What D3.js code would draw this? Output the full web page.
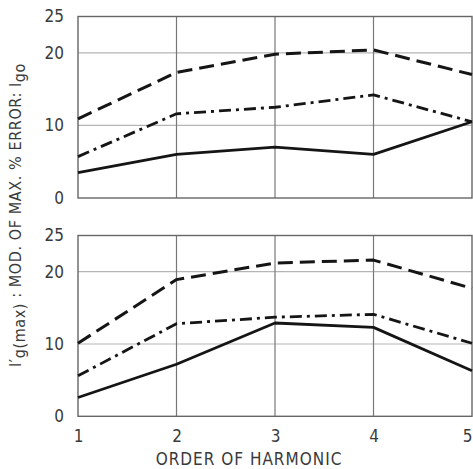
<!DOCTYPE html>
<html>
<head>
<meta charset="utf-8">
<script src="https://cdn.jsdelivr.net/npm/d3@7"></script>
<style>
  body { margin: 0; background: #fff; }
  svg text { font-family: "DejaVu Sans Condensed", "DejaVu Sans", sans-serif; fill: #3a3a3a; }
</style>
</head>
<body>
<div id="chart"></div>
<script>
var harmonics = [1, 2, 3, 4, 5];
var yTicks = [0, 10, 20, 25];

// upper panel: % error of I_go
var topDashed  = [10.9, 17.3, 19.8, 20.4, 17.0];
var topDashDot = [5.7, 11.6, 12.5, 14.2, 10.5];
var topSolid   = [3.5, 6.0, 7.0, 6.0, 10.5];

// lower panel: I'g(max)
var botDashed  = [10.1, 18.9, 21.2, 21.6, 17.7];
var botDashDot = [5.6, 12.8, 13.7, 14.1, 10.1];
var botSolid   = [2.6, 7.2, 12.9, 12.3, 6.3];

var W = 473, H = 469;
var left = 78, right = 472;

var svg = d3.select("#chart").append("svg")
	.attr("width", W).attr("height", H);

var x = d3.scaleLinear().domain([1, 5]).range([left, right]);

var styles = [
	{dash: "15,7", width: 3},
	{dash: "12,5,3,5", width: 2.8},
	{dash: null, width: 2.8}
];

function panel(top, bottom, series) {
	var y = d3.scaleLinear().domain([0, 25]).range([bottom, top]);
	var g = svg.append("g");

	// horizontal grid
	g.selectAll(".hg").data([10, 20]).enter().append("line")
		.attr("x1", left).attr("x2", right)
		.attr("y1", function(d) { return y(d); }).attr("y2", function(d) { return y(d); })
		.attr("stroke", "#b5b5b5").attr("stroke-width", 1.2);

	// vertical grid
	g.selectAll(".vg").data([2, 3, 4]).enter().append("line")
		.attr("x1", function(d) { return x(d); }).attr("x2", function(d) { return x(d); })
		.attr("y1", top).attr("y2", bottom)
		.attr("stroke", "#777").attr("stroke-width", 1.2);

	g.append("rect")
		.attr("x", left).attr("y", top)
		.attr("width", right - left).attr("height", bottom - top)
		.attr("fill", "none").attr("stroke", "#666").attr("stroke-width", 1.4);

	var axis = d3.axisLeft(y).tickValues(yTicks).tickSize(0).tickPadding(14);
	g.append("g").attr("transform", "translate(" + left + ",0)").call(axis)
		.call(function(a) { a.select(".domain").remove(); })
		.selectAll("text").style("font-size", "17px").attr("fill", "#3a3a3a");

	var line = d3.line()
		.x(function(d, i) { return x(harmonics[i]); })
		.y(function(d) { return y(d); });

	series.forEach(function(s, i) {
		g.append("path").datum(s)
			.attr("d", line)
			.attr("fill", "none")
			.attr("stroke", "#151515")
			.attr("stroke-width", styles[i].width)
			.attr("stroke-dasharray", styles[i].dash)
			.attr("stroke-linejoin", "round");
	});
	return y;
}

panel(16.5, 198, [topDashed, topDashDot, topSolid]);
panel(235.5, 416.3, [botDashed, botDashDot, botSolid]);

// x axis labels
svg.append("g").attr("transform", "translate(0,416)")
	.call(d3.axisBottom(x).tickValues(harmonics).tickFormat(d3.format("d")).tickSize(0).tickPadding(14))
	.call(function(a) { a.select(".domain").remove(); })
	.selectAll("text").style("font-size", "17px").attr("fill", "#3a3a3a")
	.attr("dx", function(d) { return d === 5 ? -5 : 0; });

svg.append("text")
	.attr("x", 249).attr("y", 465)
	.attr("text-anchor", "middle")
	.style("font-size", "17px")
	.style("letter-spacing", "1px")
	.text("ORDER OF HARMONIC");

// rotated y label
var yl = svg.append("text")
	.attr("transform", "translate(21,215) rotate(-90)")
	.attr("text-anchor", "middle")
	.style("font-size", "16px")
	.style("letter-spacing", "0.6px");
yl.append("tspan").text("I′");
yl.append("tspan").attr("dy", 4).text("g(max)");
yl.append("tspan").attr("dy", -4).text(" : MOD. OF MAX. % ERROR: I");
yl.append("tspan").attr("dy", 4).text("go");
</script>
</body>
</html>
